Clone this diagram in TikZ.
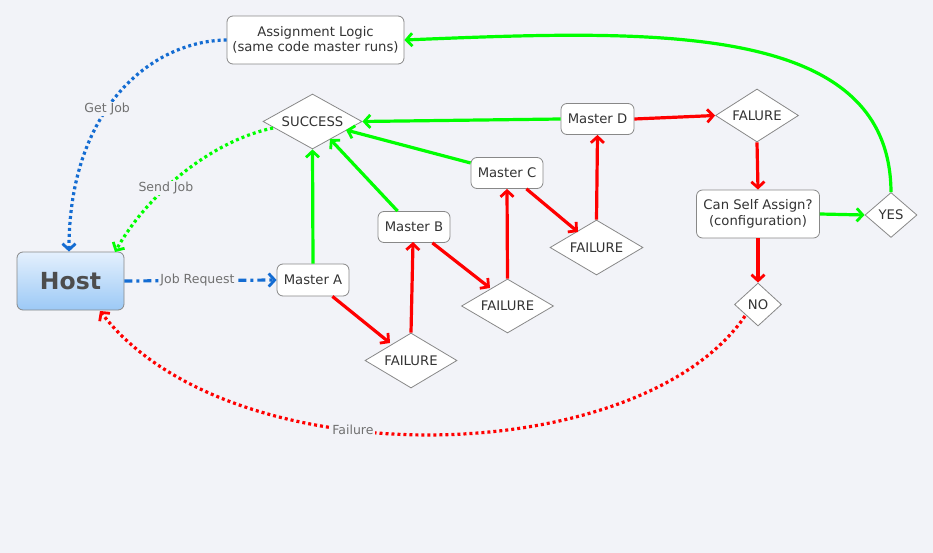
\documentclass[tikz,border=0pt]{standalone}
\usepackage{fontspec}
\setmainfont{DejaVu Sans}
\usetikzlibrary{shapes.geometric,arrows.meta}
\definecolor{bgc}{RGB}{242,243,248}
\definecolor{edgegray}{RGB}{136,136,136}
\definecolor{txt}{RGB}{51,51,51}
\definecolor{lbl}{RGB}{112,112,112}
\definecolor{okgreen}{RGB}{0,255,0}
\definecolor{badred}{RGB}{255,0,0}
\definecolor{jobblue}{RGB}{20,108,210}
\definecolor{hosttop}{RGB}{228,240,253}
\definecolor{hostbot}{RGB}{156,201,246}
\begin{document}
\begin{tikzpicture}[x=1pt,y=-1pt,
  every node/.style={font=\fontsize{13.2}{15.5}\selectfont, text=txt},
  box/.style={draw=edgegray, line width=0.8pt, fill=white, rounded corners=6pt,
    inner sep=0pt, align=center},
  choice/.style={draw=edgegray, line width=0.8pt, fill=white, diamond,
    inner sep=0pt},
  tip/.style={-{Straight Barb[length=6pt,width=13pt,line width=2.8pt]}},
  pass/.style={tip, draw=okgreen, line width=3.2pt},
  fail/.style={tip, draw=badred, line width=3.2pt},
  dots/.style={line width=3.2pt, dash pattern=on 3pt off 3pt},
  lab/.style={text=lbl, fill=bgc, inner sep=1pt, font=\fontsize{12.5}{14}\selectfont},
]
\fill[bgc] (0,0) rectangle (933,553);
\useasboundingbox (0,0) rectangle (933,553);

% nodes
\node[box, draw=edgegray, top color=hosttop, bottom color=hostbot,
  minimum width=107pt, minimum height=58pt,
  font=\fontsize{23.5}{26}\bfseries, text={rgb,255:red,77;green,77;blue,77}]
  (host) at (70.5,281) {Host};
\node[box, minimum width=177pt, minimum height=48pt] (assign) at (315.5,40)
  {Assignment Logic\\(same code master runs)};
\node[choice, minimum width=99pt, minimum height=55pt, aspect=1.8] (success) at (312.5,121.5) {SUCCESS};
\node[box, minimum width=72pt, minimum height=32pt] (ma) at (313,280) {Master A};
\node[box, minimum width=72pt, minimum height=31pt] (mb) at (414,227) {Master B};
\node[box, minimum width=72pt, minimum height=31pt] (mc) at (507,173) {Master C};
\node[box, minimum width=73pt, minimum height=31pt] (md) at (597.5,119) {Master D};
\node[choice, minimum width=92pt, minimum height=55pt, aspect=1.67] (fa) at (411,360.5) {FAILURE};
\node[choice, minimum width=92pt, minimum height=54pt, aspect=1.67] (fb) at (507.5,306) {FAILURE};
\node[choice, minimum width=93pt, minimum height=55pt, aspect=1.67] (fc) at (596.5,247.5) {FAILURE};
\node[choice, minimum width=83pt, minimum height=53pt, aspect=1.6] (fd) at (757,115.5) {FALURE};
\node[box, minimum width=123pt, minimum height=48pt] (self) at (758,214)
  {Can Self Assign?\\(configuration)};
\node[choice, minimum width=52pt, minimum height=45pt, aspect=1.16] (yes) at (891,215) {YES};
\node[choice, minimum width=47pt, minimum height=43pt, aspect=1.1] (no) at (758,304.5) {NO};

% success paths
\draw[pass] (ma.north) -- (success.south);
\draw[pass] (mb.north west) ++(20,0) coordinate (mbt) -- (330,139);
\draw[pass] (mc.west) ++(0,-10) -- (346,130);
\draw[pass] (md.west) -- (success.east);

% failure chain
\draw[fail] (ma.south east) ++(-17,0) -- (390,343);
\draw[fail] (fa.north) -- (413,242);
\draw[fail] (mb.south east) ++(-18,0) -- (490,288);
\draw[fail] (fb.north) -- (mc.south);
\draw[fail] (mc.south east) ++(-17,0) -- (578,232);
\draw[fail] (fc.north) -- (md.south);
\draw[fail] (md.east) -- (fd.west);
\draw[fail] (fd.south) -- (self.north);
\draw[fail] (self.south) -- (no.north);
\draw[pass] (self.east) -- (yes.west);
\draw[pass] (yes.north) .. controls (890,20) and (650,30) .. (assign.east);

% job traffic to and from the host
\draw[tip, draw=jobblue, line width=3.2pt, dash pattern=on 8pt off 4pt on 3pt off 4pt]
  (host.east) -- node[lab, pos=0.48] {Job Request} (ma.west);
\draw[tip, dots, draw=jobblue] (assign.west) .. controls (150,41) and (69,110)
  .. node[lab, pos=0.57] {Get Job} (host.north -| 69,0);
\draw[tip, dots, draw=okgreen] (273,128) .. controls (215,140) and (150,190)
  .. node[lab, pos=0.62] {Send Job} (115,252);
\draw[tip, dots, draw=badred] (745,316) .. controls (640,470) and (230,480)
  .. node[lab, pos=0.6] {Failure} (100,311);
\end{tikzpicture}
\end{document}
